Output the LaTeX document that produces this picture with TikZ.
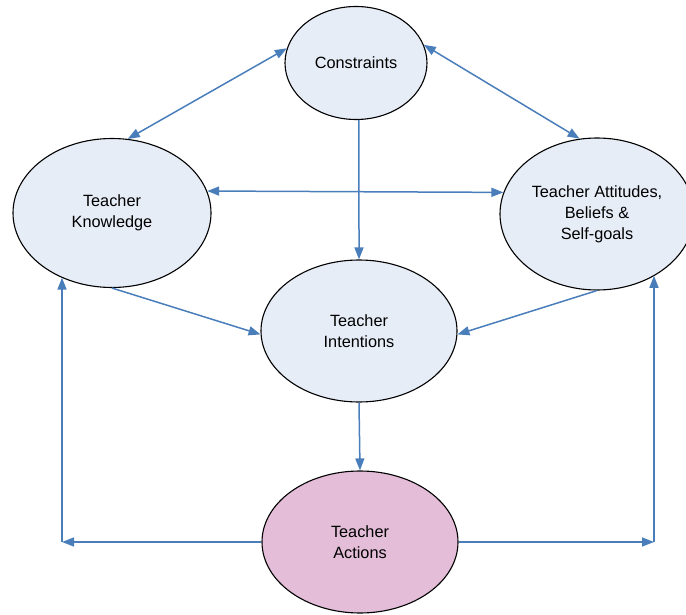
\documentclass[tikz,border=0pt]{standalone}
\usepackage{fontspec}
\setmainfont{Liberation Sans}
\usetikzlibrary{arrows.meta,shapes.geometric}
\definecolor{linkblue}{RGB}{74,126,187}
\definecolor{bubblefill}{RGB}{231,237,247}
\definecolor{actfill}{RGB}{228,189,217}
\tikzset{
	bubble/.style={ellipse, draw=black, line width=1.1pt, fill=bubblefill, inner sep=0pt, align=center, font=\fontsize{16.3}{21}\selectfont},
	link/.style={draw=linkblue, line width=1.5pt, -{Triangle[length=12pt,width=9pt]}},
	twolink/.style={link, {Triangle[length=12pt,width=9pt]}-{Triangle[length=12pt,width=9pt]}}
}

\begin{document}
\begin{tikzpicture}[x=1pt, y=-1pt]
			%%%%% START %%%%%
			
			\useasboundingbox (0, 0) rectangle (686, 615);
			
			\node[bubble, minimum width=142, minimum height=113] (cons) at (356, 63) {Constraints};
			\node[bubble, minimum width=198, minimum height=149] (know) at (112, 213) {Teacher\\Knowledge};
			\node[bubble, minimum width=194, minimum height=152] (att) at (597, 214) {Teacher Attitudes,\\Beliefs \&\\Self-goals};
			\node[bubble, minimum width=196, minimum height=142] (intent) at (359, 331) {Teacher\\Intentions};
			\node[bubble, fill=actfill, minimum width=196, minimum height=142] (act) at (360, 542) {Teacher\\Actions};
			
			\coordinate (lc) at (62, 542);
			\coordinate (rc) at (654, 542);
			
			\draw[twolink] (cons.168) -- (know.78);
			\draw[twolink] (cons.15) -- (att.103);
			\draw[twolink] (know.13) -- (att.167);
			
			\draw[link] (cons.273) -- (intent.north);
			\draw[link] (know.south) -- (intent.182);
			\draw[link] (att.south) -- (intent.358);
			\draw[link] (intent.south) -- (act.north);
			
			\draw[link] (act.west) -- (lc);
			\draw[link] (lc) -- (lc |- know.232);
			\draw[link] (act.east) -- (rc);
			\draw[link] (rc) -- (rc |- att.313);
			
			%%%%% END %%%%%
		\end{tikzpicture}
\end{document}
